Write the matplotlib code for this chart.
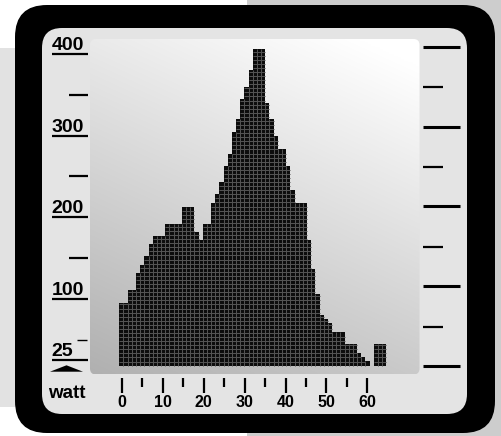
import numpy as np
import matplotlib
matplotlib.use('Agg')
import matplotlib.pyplot as plt
from matplotlib.patches import FancyBboxPatch, Rectangle, Polygon
from matplotlib.collections import LineCollection
from matplotlib.transforms import blended_transform_factory

plt.rcParams['font.family'] = ['Liberation Sans', 'DejaVu Sans']

# ---------------- data ----------------
bin_index = list(range(64))
counts = [95, 95, 111, 111, 131, 141, 152, 167, 177, 177,
          177, 192, 192, 192, 192, 212, 212, 212, 182, 172,
          192, 192, 217, 228, 243, 263, 278, 304, 320, 345,
          360, 381, 406, 406, 406, 340, 320, 299, 284, 284,
          263, 233, 217, 217, 217, 172, 136, 106, 80, 75,
          70, 59, 59, 59, 45, 45, 45, 34, 29, 24,
          0, 45, 45, 45]
y_major = [100, 200, 300, 400]
y_minor = [50, 150, 250, 350]
y_low_label = 25
x_ticks = list(range(0, 61, 5))
x_labels = [str(v) for v in range(0, 61, 10)]
x_label_text = 'watt'

# ---------------- styling constants ----------------
BASE = 18          # baseline of the bars (value units)
CELL = 5           # height of one cell (value units)
BIN_START = -0.66  # left edge of first bin (watt)
BIN_W = 1.02       # bin width (watt)

fig = plt.figure(figsize=(5.02, 4.36), dpi=100)
fig.patch.set_facecolor('white')
bg = fig.add_axes([0, 0, 1, 1])
bg.set_xlim(0, 502)
bg.set_ylim(436, 0)
bg.axis('off')

# background blocks
bg.add_patch(Rectangle((247, 0), 255, 436, color='#cdcdcd', lw=0, zorder=0))
bg.add_patch(Rectangle((0, 48), 80, 359, color='#e2e2e2', lw=0, zorder=0))

# black frame + inner light panel
bg.add_patch(FancyBboxPatch((15, 5), 480, 428, boxstyle='round,pad=0,rounding_size=32',
                            fc='black', ec='none', zorder=1))
bg.add_patch(FancyBboxPatch((42, 28), 425, 386, boxstyle='round,pad=0,rounding_size=20',
                            fc='#e4e4e4', ec='none', zorder=2))

# gradient plot panel
px0, px1, py0, py1 = 90, 419.5, 39, 374.5
nx, ny = 200, 200
xn = np.linspace(0, 1, nx)[None, :]
yn = np.linspace(0, 1, ny)[:, None]
val = np.clip(234 + 26 * xn - 58 * yn, 0, 255) / 255.0
rgb = np.dstack([val, val, val])
panel = FancyBboxPatch((px0, py0), px1 - px0, py1 - py0,
                       boxstyle='round,pad=0,rounding_size=6', fc='none', ec='none', zorder=3)
bg.add_patch(panel)
im = bg.imshow(rgb, extent=(px0, px1, py1, py0), origin='upper', aspect='auto',
               interpolation='bilinear', zorder=3)
im.set_clip_path(panel)
bg.set_xlim(0, 502)
bg.set_ylim(436, 0)

# data axes
ax_l, ax_r, ax_t, ax_b = 90, 420, 39, 374
ax = fig.add_axes([ax_l / 502, 1 - ax_b / 436, (ax_r - ax_l) / 502, (ax_b - ax_t) / 436])
ax.patch.set_alpha(0)
ax.axis('off')
x0_px, x_scale = 122.0, 4.09      # px of watt 0, px per watt
y0_px, y_scale = 380.3, 0.8157    # px of value 0, px per value unit
ax.set_xlim((ax_l - x0_px) / x_scale, (ax_r - x0_px) / x_scale)
ax.set_ylim((y0_px - ax_b) / y_scale, (y0_px - ax_t) / y_scale)

lefts = np.array([BIN_START + k * BIN_W for k in bin_index])
heights = np.array([max(c - BASE, 0) for c in counts])
ax.bar(lefts, heights, width=BIN_W, bottom=BASE, align='edge',
       color='#0c0c0c', lw=0, zorder=4)

# cell grid inside bars
segs = []
for k, c in zip(bin_index, counts):
    if c <= BASE:
        continue
    l = lefts[k]
    y = BASE + CELL
    while y < c - 1:
        segs.append([(l, y), (l + BIN_W, y)])
        y += CELL
    if k > 0 and counts[k - 1] > BASE:
        top = min(c, counts[k - 1])
        segs.append([(l, BASE), (l, top)])
ax.add_collection(LineCollection(segs, colors='#555555', linewidths=0.7, zorder=5))

# left scale
tr_y = blended_transform_factory(bg.transData, ax.transData)
for v in y_major + [y_low_label]:
    bg.plot([52, 88.3], [v, v], transform=tr_y, color='black', lw=1.6,
            solid_capstyle='butt', zorder=6)
    bg.annotate(str(v), xy=(51.5, v), xycoords=tr_y, xytext=(0, 4), textcoords='offset pixels',
                ha='left', va='baseline', fontsize=14, fontweight='bold', zorder=6)
for v in y_minor:
    if v == 50:
        bg.plot([77, 87], [v, v], transform=tr_y, color='black', lw=1.0,
                solid_capstyle='butt', zorder=6)
    else:
        bg.plot([69, 88], [v, v], transform=tr_y, color='black', lw=1.6,
                solid_capstyle='butt', zorder=6)

# arrow marker and unit label
bg.add_patch(Polygon([(50, 371.7), (83, 371.7), (66.5, 365.3)], closed=True,
                     fc='black', ec='none', zorder=6))
bg.text(48.5, 398.3, x_label_text, ha='left', va='baseline', fontsize=13.5,
        fontweight='bold', zorder=6)

# x ticks
tr_x = blended_transform_factory(ax.transData, bg.transData)
for w in x_ticks:
    if w % 10 == 0:
        bg.plot([w, w], [377.7, 392.7], transform=tr_x, color='black', lw=1.6,
                solid_capstyle='butt', zorder=6)
    else:
        bg.plot([w, w], [377.7, 386.7], transform=tr_x, color='black', lw=1.6,
                solid_capstyle='butt', zorder=6)
for lab in x_labels:
    bg.text(int(lab), 407, lab, transform=tr_x, ha='center', va='baseline',
            fontsize=11.5, fontweight='bold', zorder=6)

# right decorative scale
right_y = [47.3, 87, 127.3, 166.7, 206.3, 246.7, 286.3, 326.7, 366.3]
for i, yy in enumerate(right_y):
    if i % 2 == 0:
        bg.plot([423.3, 460], [yy, yy], color='black', lw=2.2, solid_capstyle='butt', zorder=6)
    else:
        bg.plot([423.3, 442.7], [yy, yy], color='black', lw=1.6, solid_capstyle='butt', zorder=6)

fig.savefig('out.png', dpi=100)
